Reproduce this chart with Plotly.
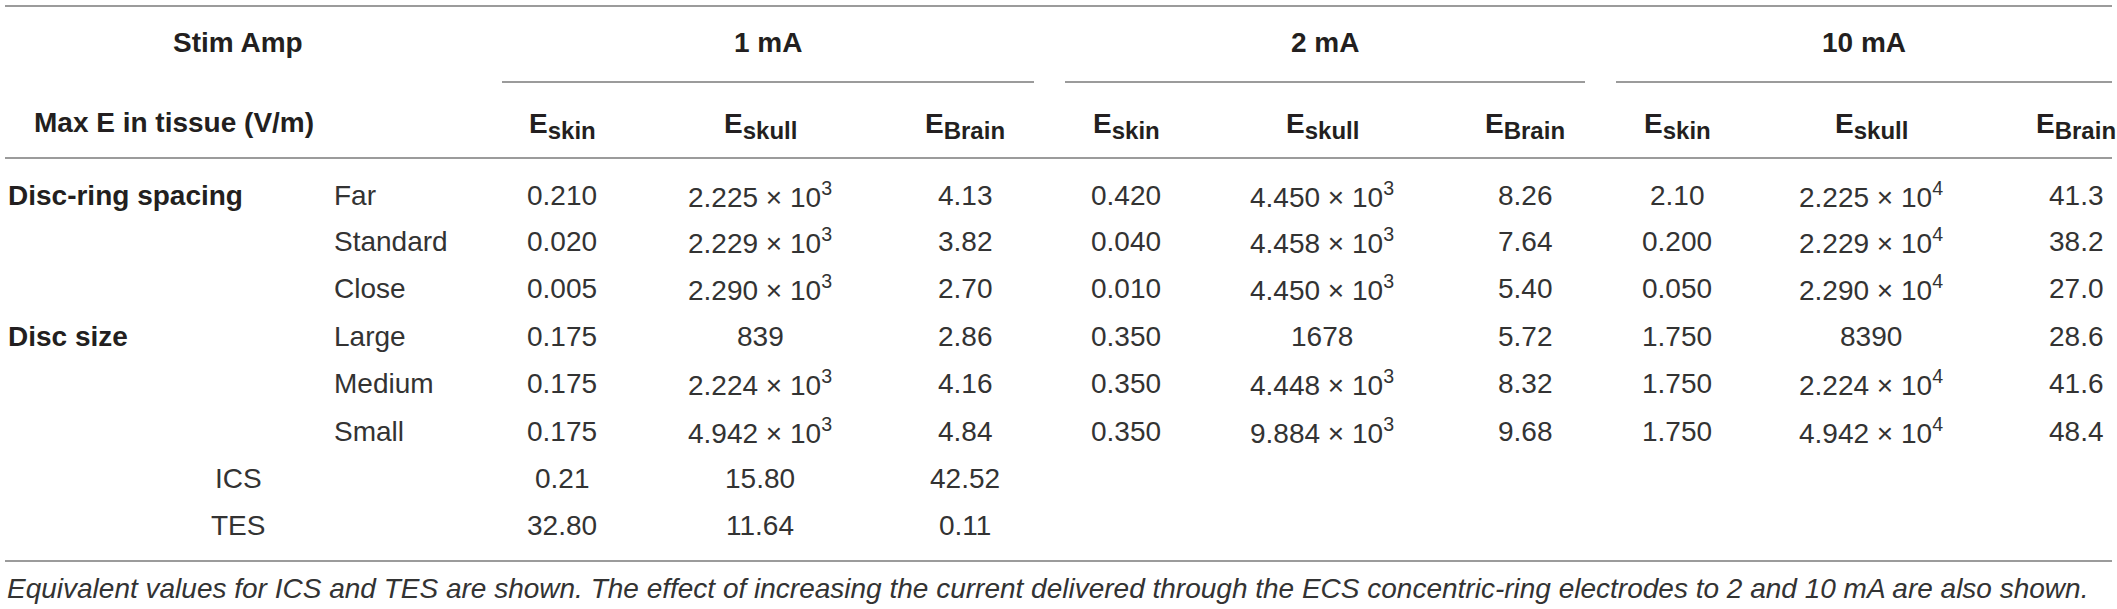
import plotly.graph_objects as go

# table content
stim_amps = ["1 mA", "2 mA", "10 mA"]
tissues = ["skin", "skull", "Brain"]

row_groups = ["Disc-ring spacing", "Disc size"]
spacing_rows = ["Far", "Standard", "Close"]
size_rows = ["Large", "Medium", "Small"]
other_rows = ["ICS", "TES"]

X = " \u00d7 10<sup>%d</sup>"

skin_1mA = ["0.210", "0.020", "0.005", "0.175", "0.175", "0.175", "0.21", "32.80"]
skull_1mA = ["2.225" + X % 3, "2.229" + X % 3, "2.290" + X % 3, "839",
             "2.224" + X % 3, "4.942" + X % 3, "15.80", "11.64"]
brain_1mA = ["4.13", "3.82", "2.70", "2.86", "4.16", "4.84", "42.52", "0.11"]

skin_2mA = ["0.420", "0.040", "0.010", "0.350", "0.350", "0.350"]
skull_2mA = ["4.450" + X % 3, "4.458" + X % 3, "4.450" + X % 3, "1678",
             "4.448" + X % 3, "9.884" + X % 3]
brain_2mA = ["8.26", "7.64", "5.40", "5.72", "8.32", "9.68"]

skin_10mA = ["2.10", "0.200", "0.050", "1.750", "1.750", "1.750"]
skull_10mA = ["2.225" + X % 4, "2.229" + X % 4, "2.290" + X % 4, "8390",
              "2.224" + X % 4, "4.942" + X % 4]
brain_10mA = ["41.3", "38.2", "27.0", "28.6", "41.6", "48.4"]

caption = ("Equivalent values for ICS and TES are shown. The effect of increasing the current "
           "delivered through the ECS concentric-ring electrodes to 2 and 10 mA are also shown.")

# layout of the page (pixels)
W, H = 2117, 609
row_y = [195, 241, 288, 336, 383, 431, 478, 525]
col_x = {"skin": [562, 1126, 1677], "skull": [760, 1322, 1871], "Brain": [965, 1525, 2076]}
group_span = [(502, 1034), (1065, 1585), (1616, 2112)]

FONT = "Liberation Sans, Arial, Helvetica, sans-serif"
SIZE = 28
DARK = "#231f20"
BODY = "#333333"
RULE = "#7a7a7a"


def cell(x, y, text, anchor="center", color=BODY, size=SIZE):
    return dict(x=x, y=y, text=text, xref="x", yref="y", xanchor=anchor,
                yanchor="middle", showarrow=False,
                font=dict(family=FONT, size=size, color=color))


ann = []

# body cells
columns = [
    (skin_1mA, skull_1mA, brain_1mA),
    (skin_2mA, skull_2mA, brain_2mA),
    (skin_10mA, skull_10mA, brain_10mA),
]
for g, cols in enumerate(columns):
    for t, values in zip(tissues, cols):
        for i, v in enumerate(values):
            ann.append(cell(col_x[t][g], row_y[i], v))

# row labels
for i, s in enumerate(spacing_rows + size_rows):
    ann.append(cell(332, row_y[i], s, anchor="left"))
for i, s in enumerate(other_rows):
    ann.append(cell(238, row_y[6 + i], s))
for i, s in zip([0, 3], row_groups):
    ann.append(cell(6, row_y[i], "<b>%s</b>" % s, anchor="left", color=DARK))

# header
ann.append(cell(238, 42, "<b>Stim Amp</b>", color=DARK))
ann.append(cell(32, 122, "<b>Max E in tissue (V/m)</b>", anchor="left", color=DARK))
for g, amp in enumerate(stim_amps):
    a, b = group_span[g]
    ann.append(cell((a + b) / 2, 42, "<b>%s</b>" % amp, color=DARK))
    for t in tissues:
        ann.append(cell(col_x[t][g], 126,
                        "<b>E<sub><span style='font-size:24px'>%s</span></sub></b>" % t,
                        color=DARK))

ann.append(cell(5, 588, "<i>%s</i>" % caption, anchor="left", size=28))

# rules
shapes = []
for yy in [6, 158, 561]:
    shapes.append(dict(type="line", x0=5, x1=2112, y0=yy, y1=yy, xref="x", yref="y",
                       line=dict(color=RULE, width=1.5)))
for a, b in group_span:
    shapes.append(dict(type="line", x0=a, x1=b, y0=82, y1=82, xref="x", yref="y",
                       line=dict(color=RULE, width=1.5)))

fig = go.Figure()
fig.update_layout(
    width=W, height=H,
    margin=dict(l=0, r=0, t=0, b=0),
    paper_bgcolor="white", plot_bgcolor="white",
    xaxis=dict(range=[0, W], visible=False, fixedrange=True),
    yaxis=dict(range=[H, 0], visible=False, fixedrange=True),
    annotations=ann, shapes=shapes,
)

# page without the default body margin so the table sits at the window edge
fig.write_html("out.html", config={"displayModeBar": False},
               post_script="document.body.style.margin='0';document.body.style.overflow='hidden';")
